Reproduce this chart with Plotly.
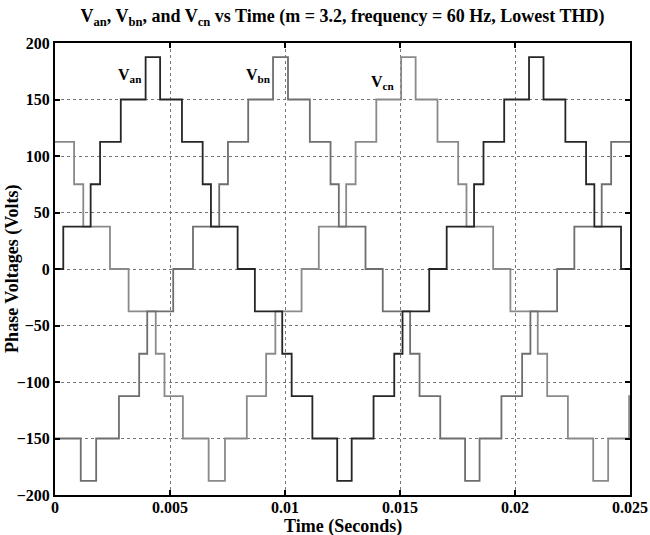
import plotly.graph_objects as go

# Step switching instants (s) and phase voltage levels (V)
va_t = [0, 0.00036, 0.00155, 0.00196, 0.00286, 0.00394, 0.00457, 0.00552, 0.00642, 0.00678, 0.00794,
        0.00869, 0.00988, 0.01029, 0.01119, 0.01227, 0.01290, 0.01385, 0.01475, 0.01511, 0.01627,
        0.01703, 0.01822, 0.01863, 0.01953, 0.02061, 0.02124, 0.02219, 0.02309, 0.02345, 0.02461, 0.025]
va_v = [0, 37.5, 75, 112.5, 150, 187.5, 150, 112.5, 75, 37.5, 0,
        -37.5, -75, -112.5, -150, -187.5, -150, -112.5, -75, -37.5, 0,
        37.5, 75, 112.5, 150, 187.5, 150, 112.5, 75, 37.5, 0, 0]

vb_t = [0, 0.00112, 0.00179, 0.00278, 0.00366, 0.00401, 0.00514, 0.00600, 0.00714, 0.00752, 0.00840,
        0.00948, 0.01013, 0.01108, 0.01198, 0.01234, 0.01350, 0.01425, 0.01544, 0.01585, 0.01675,
        0.01783, 0.01846, 0.01941, 0.02031, 0.02067, 0.02183, 0.02258, 0.02377, 0.02418, 0.025]
vb_v = [-150, -187.5, -150, -112.5, -75, -37.5, 0, 37.5, 75, 112.5, 150,
        187.5, 150, 112.5, 75, 37.5, 0, -37.5, -75, -112.5, -150,
        -187.5, -150, -112.5, -75, -37.5, 0, 37.5, 75, 112.5, 112.5]

vc_t = [0, 0.00083, 0.00123, 0.00239, 0.00320, 0.00438, 0.00476, 0.00556, 0.00668, 0.00739, 0.00834,
        0.00918, 0.00958, 0.01072, 0.01147, 0.01266, 0.01307, 0.01397, 0.01505, 0.01568, 0.01663,
        0.01753, 0.01789, 0.01905, 0.01980, 0.02099, 0.02140, 0.02230, 0.02340, 0.02405, 0.02496, 0.025]
vc_v = [112.5, 75, 37.5, 0, -37.5, -75, -112.5, -150, -187.5, -150, -112.5,
        -75, -37.5, 0, 37.5, 75, 112.5, 150, 187.5, 150, 112.5,
        75, 37.5, 0, -37.5, -75, -112.5, -150, -187.5, -150, -112.5, -112.5]

x_ticks = [0, 0.005, 0.01, 0.015, 0.02, 0.025]
x_tick_text = ["0", "0.005", "0.01", "0.015", "0.02", "0.025"]
y_ticks = [-200, -150, -100, -50, 0, 50, 100, 150, 200]

labels = ["V<sub>an</sub>", "V<sub>bn</sub>", "V<sub>cn</sub>"]
label_t = [0.00328, 0.00883, 0.01427]
label_v = [171, 171, 165]

FONT = "Liberation Serif, Times New Roman, serif"

fig = go.Figure()
fig.add_trace(go.Scatter(x=vc_t, y=vc_v, mode="lines", line=dict(shape="hv", color="#8a8a8a", width=1.8), name="Vcn"))
fig.add_trace(go.Scatter(x=vb_t, y=vb_v, mode="lines", line=dict(shape="hv", color="#6e6e6e", width=1.8), name="Vbn"))
fig.add_trace(go.Scatter(x=va_t, y=va_v, mode="lines", line=dict(shape="hv", color="#262626", width=1.8), name="Van"))

for txt, tx, vy in zip(labels, label_t, label_v):
    fig.add_annotation(x=tx, y=vy, text=txt, showarrow=False, xref="x", yref="y",
                       font=dict(family=FONT, size=16, color="black", weight="bold"))

fig.add_annotation(x=0.5, y=-0.069, xref="paper", yref="paper", text="Time (Seconds)", showarrow=False,
                   yanchor="middle", font=dict(family=FONT, size=18, color="black", weight="bold"))
fig.add_annotation(x=-0.075, y=0.5, xref="paper", yref="paper", text="Phase Voltages (Volts)", showarrow=False,
                   textangle=-90, xanchor="center", font=dict(family=FONT, size=18, color="black", weight="bold"))

axis_common = dict(
    ticks="inside", ticklen=5, tickwidth=2, tickcolor="black",
    showline=True, linewidth=2, linecolor="black", mirror="ticks",
    showgrid=True, gridcolor="#777777", griddash="dot", gridwidth=1,
    zeroline=False, automargin=False,
    tickfont=dict(family=FONT, size=16, color="black", weight="bold"),
)

fig.update_layout(
    width=650, height=535,
    margin=dict(l=55, r=20, t=43, b=40, autoexpand=False),
    paper_bgcolor="white", plot_bgcolor="white",
    showlegend=False,
    font=dict(family=FONT, size=16, color="black", weight="bold"),
    title=dict(text="V<sub>an</sub>, V<sub>bn</sub>, and V<sub>cn</sub> vs Time (m = 3.2, frequency = 60 Hz, Lowest THD)",
               x=0.5, xref="paper", xanchor="center", y=1 - 16 / 535, yref="container", yanchor="middle",
               font=dict(family=FONT, size=18, color="black", weight="bold")),
    xaxis=dict(range=[0, 0.025], tickvals=x_ticks, ticktext=x_tick_text, ticklabelstandoff=-3,
               ticklabeloverflow="allow", **axis_common),
    yaxis=dict(range=[-200, 200], tickvals=y_ticks, **axis_common),
)

fig.write_html("out.html", config={"displayModeBar": False},
               post_script="document.body.style.margin='0';document.body.style.overflow='hidden';")
